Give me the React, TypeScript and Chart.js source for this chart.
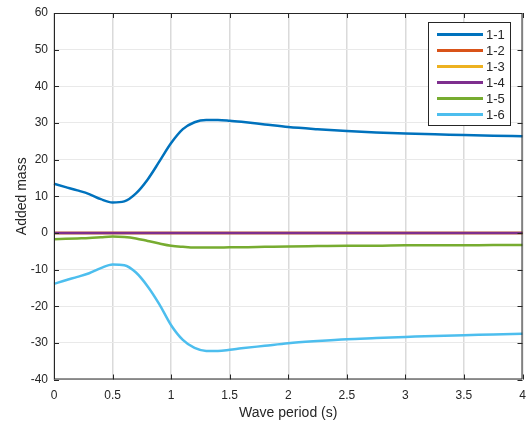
import React, { useEffect, useRef } from "react";
import { Chart, registerables } from "chart.js";

Chart.register(...registerables);

const periods = [0, 0.1, 0.2, 0.3, 0.4, 0.5, 0.6, 0.7, 0.8, 0.9, 1.0, 1.1, 1.2, 1.3, 1.4, 1.5, 1.6, 1.8, 2.0, 2.25, 2.5, 2.75, 3.0, 3.25, 3.5, 3.75, 4.0];

const m11 = [13.4, 12.5, 11.6, 10.6, 9.2, 8.3, 8.6, 10.8, 14.6, 19.5, 24.5, 28.3, 30.2, 30.8, 30.8, 30.6, 30.3, 29.6, 28.9, 28.3, 27.8, 27.4, 27.1, 26.9, 26.7, 26.5, 26.4];
const m12 = [0, 0, 0, 0, 0, 0, 0, 0, 0, 0, 0, 0, 0, 0, 0, 0, 0, 0, 0, 0, 0, 0, 0, 0, 0, 0, 0];
const m13 = [0, 0, 0, 0, 0, 0, 0, 0, 0, 0, 0, 0, 0, 0, 0, 0, 0, 0, 0, 0, 0, 0, 0, 0, 0, 0, 0];
const m14 = [0, 0, 0, 0, 0, 0, 0, 0, 0, 0, 0, 0, 0, 0, 0, 0, 0, 0, 0, 0, 0, 0, 0, 0, 0, 0, 0];
const m15 = [-1.7, -1.6, -1.5, -1.4, -1.2, -1.0, -1.1, -1.5, -2.2, -2.9, -3.5, -3.8, -4.0, -4.0, -4.0, -3.9, -3.9, -3.8, -3.7, -3.6, -3.5, -3.5, -3.4, -3.4, -3.4, -3.3, -3.3];
const m16 = [-13.9, -12.9, -12.0, -11.0, -9.6, -8.6, -8.8, -10.8, -14.6, -19.5, -25.2, -29.2, -31.4, -32.2, -32.2, -31.9, -31.5, -30.8, -30.1, -29.5, -29.0, -28.7, -28.4, -28.1, -27.9, -27.7, -27.5];

const seriesLabels = ["1-1", "1-2", "1-3", "1-4", "1-5", "1-6"];
const seriesValues = [m11, m12, m13, m14, m15, m16];
const seriesColors = ["#0072BD", "#D95319", "#EDB120", "#7E2F8E", "#77AC30", "#4DBEEE"];

const xTicks = [0, 0.5, 1, 1.5, 2, 2.5, 3, 3.5, 4];
const yTicks = [-40, -30, -20, -10, 0, 10, 20, 30, 40, 50, 60];

const FONT = "'Liberation Sans', Arial, Helvetica, sans-serif";
const AXIS = "#262626";

const boxPlugin = {
  id: "matlabBox",
  afterDatasetsDraw(chart: any) {
    const { ctx, chartArea } = chart;
    const { left, right, top, bottom } = chartArea;
    const xs = chart.scales.x;
    const ys = chart.scales.y;
    ctx.save();
    ctx.strokeStyle = AXIS;
    ctx.lineWidth = 1;
    ctx.beginPath();
    ctx.rect(left + 0.5, top + 0.5, right - left - 1, bottom - top - 1);
    ctx.stroke();
    ctx.beginPath();
    const tl = 5;
    xTicks.forEach((v) => {
      const px = Math.round(xs.getPixelForValue(v)) + 0.5;
      ctx.moveTo(px, bottom);
      ctx.lineTo(px, bottom - tl);
      ctx.moveTo(px, top);
      ctx.lineTo(px, top + tl);
    });
    yTicks.forEach((v) => {
      const py = Math.round(ys.getPixelForValue(v)) + 0.5;
      ctx.moveTo(left, py);
      ctx.lineTo(left + tl, py);
      ctx.moveTo(right, py);
      ctx.lineTo(right - tl, py);
    });
    ctx.stroke();
    ctx.restore();
  },
  afterDraw(chart: any) {
    const { ctx } = chart;
    const bx = 428.5, by = 22.5, bw = 82, bh = 103;
    ctx.save();
    ctx.fillStyle = "#ffffff";
    ctx.fillRect(bx, by, bw, bh);
    ctx.strokeStyle = AXIS;
    ctx.lineWidth = 1;
    ctx.strokeRect(bx, by, bw, bh);
    ctx.font = `13px ${FONT}`;
    ctx.textBaseline = "middle";
    ctx.textAlign = "left";
    chart.data.datasets.forEach((ds: any, i: number) => {
      const y = 34.5 + i * 16;
      ctx.strokeStyle = ds.borderColor;
      ctx.lineWidth = 3;
      ctx.beginPath();
      ctx.moveTo(437, y);
      ctx.lineTo(483, y);
      ctx.stroke();
      ctx.fillStyle = AXIS;
      ctx.fillText(ds.label, 486, y + 0.5);
    });
    ctx.restore();
  },
};

export default function App() {
  const ref = useRef<HTMLCanvasElement>(null);
  useEffect(() => {
    if (!ref.current) return;
    const chart = new Chart(ref.current, {
      type: "line",
      data: {
        datasets: seriesLabels.map((label, i) => ({
          label,
          data: periods.map((p, j) => ({ x: p, y: seriesValues[i][j] })),
          borderColor: seriesColors[i],
          backgroundColor: seriesColors[i],
          borderWidth: 2.5,
          pointRadius: 0,
          cubicInterpolationMode: "monotone" as const,
          order: seriesLabels.length - i,
          clip: 3,
        })),
      },
      options: {
        responsive: false,
        animation: false,
        layout: { padding: { top: 13, right: 3.5, left: 0, bottom: 0 } },
        plugins: { legend: { display: false }, tooltip: { enabled: false } },
        scales: {
          x: {
            type: "linear",
            min: 0,
            max: 4,
            afterFit: (s: any) => {
              s.height = 48.5;
              s.paddingLeft = 0;
              s.paddingRight = 0;
            },
            afterBuildTicks: (s: any) => {
              s.ticks = xTicks.map((v) => ({ value: v }));
            },
            ticks: {
              padding: 9,
              color: AXIS,
              font: { family: FONT, size: 12 },
              maxRotation: 0,
              callback: (v: any) => String(v),
            },
            grid: { color: "#dadada", lineWidth: 1.5, drawTicks: false },
            border: { display: false },
            title: {
              display: true,
              text: "Wave period (s)",
              color: AXIS,
              font: { family: FONT, size: 14 },
              padding: { top: 0, bottom: 6.5 },
            },
          },
          y: {
            min: -40,
            max: 60,
            afterFit: (s: any) => {
              s.width = 54;
              s.paddingTop = 0;
              s.paddingBottom = 0;
            },
            afterBuildTicks: (s: any) => {
              s.ticks = yTicks.map((v) => ({ value: v }));
            },
            ticks: {
              padding: 6,
              color: AXIS,
              font: { family: FONT, size: 12 },
              callback: (v: any) => String(v),
            },
            grid: { color: "#e9e9e9", lineWidth: 1, drawTicks: false },
            border: { display: false },
            title: {
              display: true,
              text: "Added mass",
              color: AXIS,
              font: { family: FONT, size: 14 },
              padding: { top: 13.5, bottom: 0 },
            },
          },
        },
      },
      plugins: [boxPlugin],
    });
    return () => chart.destroy();
  }, []);
  return (
    <div style={{ position: "absolute", left: 0, top: 0, width: 526, height: 428, background: "#fff" }}>
      <canvas ref={ref} width={526} height={428} />
    </div>
  );
}
